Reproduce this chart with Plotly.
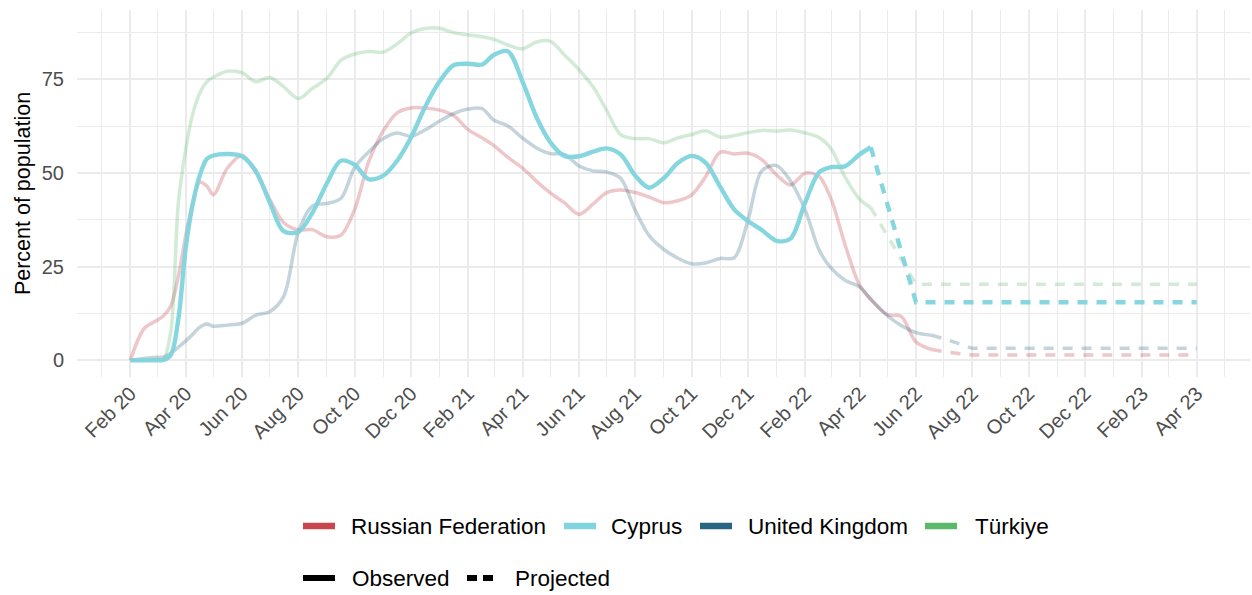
import plotly.graph_objects as go

# ---------------- data ----------------
obs_dates = [
    "2020-02-01", "2020-02-16", "2020-03-01", "2020-03-08", "2020-03-16", "2020-03-24",
    "2020-04-01", "2020-04-08", "2020-04-16", "2020-04-24", "2020-05-01", "2020-05-16",
    "2020-06-01", "2020-06-16", "2020-07-01", "2020-07-16", "2020-08-01", "2020-08-16",
    "2020-09-01", "2020-09-16", "2020-10-01", "2020-10-16", "2020-11-01", "2020-11-16",
    "2020-12-01", "2020-12-16", "2021-01-01", "2021-01-16", "2021-02-01", "2021-02-16",
    "2021-03-01", "2021-03-16", "2021-04-01", "2021-04-16", "2021-05-01", "2021-05-16",
    "2021-06-01", "2021-06-16", "2021-07-01", "2021-07-16", "2021-08-01", "2021-08-16",
    "2021-09-01", "2021-09-16", "2021-10-01", "2021-10-16", "2021-11-01", "2021-11-16",
    "2021-12-01", "2021-12-16", "2022-01-01", "2022-01-16", "2022-02-01", "2022-02-16",
    "2022-03-01", "2022-03-16", "2022-04-01", "2022-04-13",
]
late_dates = ["2022-05-01", "2022-05-16", "2022-06-01", "2022-06-18"]

cyprus_obs = [
    0, 0, 0, 0.1, 1.5, 11, 30, 41, 49.2, 53.8,
    54.7, 55.1, 54.5, 50.5, 42.2, 34.5, 34.3, 39.3, 47.3, 53.3,
    52.2, 48.4, 49.3, 53.3, 59.5, 67.5, 74.5, 78.8, 79.2, 79.0,
    81.6, 82.5, 74.3, 64.9, 58.2, 54.6, 54.5, 55.7, 56.6, 55.0,
    49.3, 46.1, 48.7, 52.7, 54.6, 52.8, 46.3, 40.3, 37.2, 34.8,
    31.9, 32.5, 42.2, 50.2, 51.6, 51.8, 55.0, 56.9,
]
turkiye_obs = [
    0, 0, 0.2, 0.4, 8, 42, 56.3, 65.2, 71.2, 74.4,
    75.6, 77.2, 76.8, 74.4, 75.5, 73.1, 69.9, 72.6, 75.3, 80.1,
    81.8, 82.5, 82.3, 84.5, 87.4, 88.6, 88.7, 87.5, 86.9, 86.4,
    85.7, 84.2, 83.2, 85.0, 85.2, 81.6, 77.6, 73.1, 66.7, 60.3,
    59.2, 59.2, 58.1, 59.4, 60.3, 61.3, 59.6, 60.0, 60.8, 61.4,
    61.2, 61.5, 60.7, 59.5, 56.5, 49.0, 43.0, 40.8,
]
russia_obs = [
    0, 8.5, 10.7, 11.9, 14.6, 22.4, 33.3, 41.2, 47.6, 46.5,
    44.2, 51.3, 54.7, 50.2, 43.0, 36.8, 34.8, 34.9, 33.0, 33.4,
    40.3, 52.9, 61.3, 66.1, 67.4, 67.4, 66.8, 65.4, 61.6, 59.4,
    57.3, 54.2, 51.3, 47.8, 44.7, 42.1, 39.0, 41.7, 44.8, 45.5,
    44.8, 43.6, 42.1, 42.6, 44.2, 49.0, 55.6, 55.1, 55.3, 53.6,
    49.5, 46.8, 50.0, 49.1, 43.1, 31.0, 20.0, 16.3,
]
russia_late = [12.2, 11.7, 4.9, 2.9]
uk_obs = [
    0, 0.5, 0.8, 0.9, 1.9, 3.5, 5.2, 6.8, 8.8, 9.7,
    9.1, 9.4, 9.9, 12.1, 13.0, 17.0, 34.3, 41.2, 41.9, 43.2,
    51.5, 55.6, 59.2, 60.7, 59.8, 61.5, 63.9, 65.9, 67.1, 67.2,
    64.1, 62.6, 59.3, 56.7, 55.2, 55.0, 51.9, 50.6, 50.3, 48.6,
    40.0, 33.3, 29.6, 27.3, 25.8, 26.0, 27.2, 27.4, 37.4, 50.6,
    52.0, 47.9, 40.1, 29.5, 24.6, 21.4, 19.6, 16.3,
]
uk_late = [11.9, 9.3, 7.4, 6.7]

# projections
proj_dates_a = ["2022-04-13", "2022-06-01", "2023-04-01"]
cyprus_proj = [56.9, 15.5, 15.5]
turkiye_proj = [40.8, 20.3, 20.3]
proj_dates_b = ["2022-06-18", "2022-07-01", "2022-08-01", "2023-04-01"]
uk_proj = [6.7, 5.8, 3.2, 3.2]
russia_proj = [2.9, 2.3, 1.4, 1.4]

countries = ["Russian Federation", "Cyprus", "United Kingdom", "Türkiye"]
line_types = ["Observed", "Projected"]
colors = {
    "Russian Federation": (200, 71, 79),
    "Cyprus": (127, 212, 222),
    "United Kingdom": (39, 101, 130),
    "Türkiye": (92, 184, 106),
}

# ---------------- figure ----------------
W, H = 1252, 595
ML, MR, MT, MB = 77, 2, 10, 218
PW, PH = W - ML - MR, H - MT - MB


def rgba(c, a):
    return f"rgba({c[0]},{c[1]},{c[2]},{a})"


def px_to_paper(px, py):
    return (px - ML) / PW, (H - MB - py) / PH


FONT = "Liberation Sans, Arial, sans-serif"
fig = go.Figure()

series = [
    ("Russian Federation", obs_dates + late_dates, russia_obs + russia_late, proj_dates_b, russia_proj, 0.3, 3.5),
    ("United Kingdom", obs_dates + late_dates, uk_obs + uk_late, proj_dates_b, uk_proj, 0.28, 3.5),
    ("Türkiye", obs_dates, turkiye_obs, proj_dates_a, turkiye_proj, 0.28, 3.5),
    ("Cyprus", obs_dates, cyprus_obs, proj_dates_a, cyprus_proj, 0.95, 4.4),
]
for name, xd, yd, xp, yp, alpha, w in series:
    col = rgba(colors[name], alpha)
    fig.add_trace(go.Scatter(x=xp, y=yp, mode="lines", showlegend=False, hoverinfo="skip",
                             name=name + " (projected)",
                             line=dict(color=col, width=w, dash="10px,9px")))
    fig.add_trace(go.Scatter(x=xd, y=yd, mode="lines", showlegend=False, name=name,
                             line=dict(color=col, width=w, shape="spline", smoothing=0.9)))

# ---------------- legend (drawn as keys + text below the plot) ----------------
LEG_FONT = dict(size=22.5, color="black", family=FONT)
row1_y, row2_y = 526, 578
legend_row1 = [(303, 349), (564, 609), (700, 746), (925, 973)]  # key start, text start (px)
legend_row2 = [(303, 350), (465, 513)]
KEY_LEN = 32

for name, (kx, tx) in zip(countries, legend_row1):
    x0, y0 = px_to_paper(kx, row1_y)
    x1, _ = px_to_paper(kx + KEY_LEN, row1_y)
    fig.add_shape(type="line", xref="paper", yref="paper", x0=x0, x1=x1, y0=y0, y1=y0,
                  line=dict(color=rgba(colors[name], 1), width=6.5))
    txp, _ = px_to_paper(tx, row1_y)
    fig.add_annotation(text=name, xref="paper", yref="paper", x=txp, y=y0, xanchor="left",
                       yanchor="middle", showarrow=False, font=LEG_FONT)

for lt, (kx, tx) in zip(line_types, legend_row2):
    x0, y0 = px_to_paper(kx, row2_y)
    if lt == "Observed":
        x1, _ = px_to_paper(kx + KEY_LEN, row2_y)
        dash = "solid"
    else:
        x0, _ = px_to_paper(kx + 2, row2_y)
        x1, _ = px_to_paper(kx + 28, row2_y)
        dash = "10px,6px"
    fig.add_shape(type="line", xref="paper", yref="paper", x0=x0, x1=x1, y0=y0, y1=y0,
                  line=dict(color="black", width=6, dash=dash))
    txp, _ = px_to_paper(tx, row2_y)
    fig.add_annotation(text=lt, xref="paper", yref="paper", x=txp, y=y0, xanchor="left",
                       yanchor="middle", showarrow=False, font=LEG_FONT)

grid = "#ebebeb"
fig.update_layout(
    width=W, height=H,
    margin=dict(l=ML, r=MR, t=MT, b=MB),
    paper_bgcolor="white", plot_bgcolor="white",
    font=dict(family=FONT, size=20, color="black"),
    showlegend=False,
    xaxis=dict(
        type="date", automargin=False,
        range=["2019-12-05 06:00", "2023-05-28 18:00"],
        tick0="2020-02-01", dtick="M2", tickformat="%b %y",
        tickangle=-45, tickfont=dict(size=20, color="#4d4d4d"),
        showgrid=True, gridcolor=grid, gridwidth=1.6,
        minor=dict(dtick="M1", tick0="2020-02-01", showgrid=True, gridcolor=grid, gridwidth=0.8),
        showline=False, zeroline=False, ticks="",
    ),
    yaxis=dict(
        automargin=False,
        range=[-4.45, 93.55],
        tickvals=[0, 25, 50, 75],
        tickfont=dict(size=20, color="#4d4d4d"),
        showgrid=True, gridcolor=grid, gridwidth=1.6,
        minor=dict(tickvals=[12.5, 37.5, 62.5, 87.5], showgrid=True, gridcolor=grid, gridwidth=0.8),
        showline=False, zeroline=False, ticks="",
        ticklabelstandoff=12,
        title=dict(text="Percent of population", font=dict(size=21.5, color="black"), standoff=5),
    ),
)

# remove the browser's default page margin so the figure sits at the window's top-left corner
fig.write_html("out.html", config={"displayModeBar": False},
               post_script="document.body.style.margin='0';")
